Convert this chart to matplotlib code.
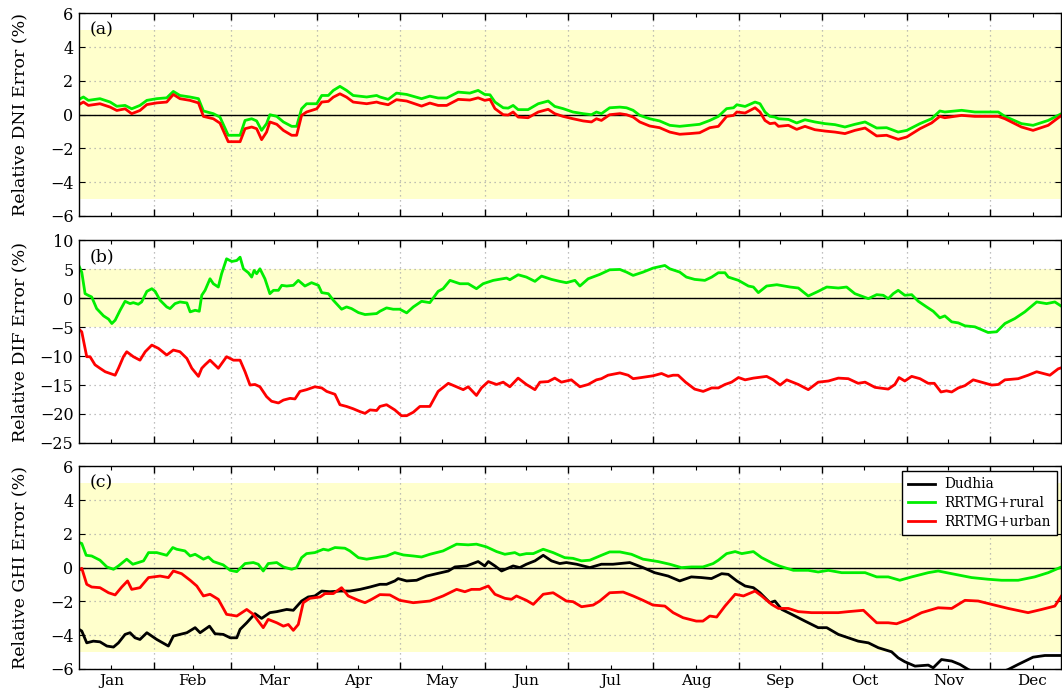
import numpy as np
import matplotlib
matplotlib.use("Agg")
import matplotlib.pyplot as plt
from matplotlib.ticker import FixedLocator, NullFormatter, FixedFormatter

# ---------------- data (day of year, 0 = Jan 1) ----------------
a_days = [3.8, 5.4, 7.2, 11.4, 15.1, 17.5, 20.5, 22.9, 25.9, 28.4, 32, 35.6, 38, 40.4, 44, 47.1,
          48.9, 52.5, 54.9, 57.9, 62.2, 64, 66.4, 68.2, 70, 71.8, 73, 75.5, 77.9, 80.9, 82.7,
          84.5, 86.3, 90, 91.8, 94.2, 96, 98.4, 100.8, 103.2, 108.1, 111.7,
          112.9, 115.9, 118.9, 122.6, 128, 131, 134, 137.1, 141.3, 145.5, 148.5, 150.9, 152.8,
          154.6, 157.6, 159.4, 161.2, 163, 166.6, 170.3, 173.9, 176.3, 179.3, 182.9, 186.6,
          189.6, 191.4, 193.2, 196.2, 199.9, 202.3, 204.7, 207.1, 210.7, 214.3, 218, 221.6,
          225.2, 228.8, 232.5,
          235.6, 238.6, 241.1, 242.3, 245.3, 248.9, 250.7, 252.5, 254.3, 256.1, 257.4, 261,
          264, 267, 270.6, 274.3, 277.9, 281.5, 285.1, 288.8, 293, 296.6, 300.8, 303.9, 308.7,
          312.9, 315.9, 317.7, 323.8, 328.6, 337.1, 339.5, 345.5, 349.7, 355.2, 360]
a_rural = [0.91, 1.05, 0.85, 0.95, 0.75, 0.5, 0.55, 0.35, 0.55, 0.85, 0.95, 1.0, 1.38, 1.14, 1.05, 0.95,
           0.22, 0.06, -0.14, -1.22, -1.22, -0.34, -0.24, -0.37, -0.93, -0.53, 0.0, -0.1, -0.43, -0.69, -0.69,
           0.35, 0.65, 0.65, 1.14, 1.14, 1.44, 1.68, 1.44, 1.14, 1.05, 1.14,
           1.05, 0.91, 1.28, 1.2, 0.95, 1.1, 0.99, 0.99, 1.34, 1.28, 1.44, 1.2, 1.18,
           0.75, 0.41, 0.39, 0.55, 0.3, 0.3, 0.65, 0.81, 0.49, 0.36, 0.16, 0.06,
           0.0, 0.16, 0.06, 0.41, 0.45, 0.41, 0.26, -0.04, -0.24, -0.37, -0.63, -0.69,
           -0.63, -0.57, -0.34,
           -0.1, 0.36, 0.41, 0.59, 0.49, 0.75, 0.65, 0.16, -0.1, -0.14, -0.24, -0.28,
           -0.49, -0.3, -0.43, -0.53, -0.59, -0.73, -0.57, -0.43, -0.79, -0.77, -1.03, -0.93, -0.53,
           -0.24, 0.22, 0.16, 0.26, 0.16, 0.16, -0.1, -0.53, -0.63, -0.34, 0.06]
a_urban = [0.6, 0.75, 0.55, 0.65, 0.45, 0.25, 0.35, 0.06, 0.25, 0.6, 0.7, 0.75, 1.2, 0.95, 0.85, 0.7,
           -0.1, -0.24, -0.5, -1.6, -1.6, -0.83, -0.73, -0.83, -1.48, -1.03, -0.43, -0.57, -0.93, -1.22, -1.22,
           -0.04, 0.16, 0.35, 0.75, 0.79, 1.04, 1.24, 1.04, 0.75, 0.65, 0.75,
           0.69, 0.59, 0.89, 0.81, 0.51, 0.69, 0.55, 0.55, 0.91, 0.87, 1.0, 0.85, 0.91,
           0.36, 0.0, -0.02, 0.16, -0.14, -0.18, 0.16, 0.32, 0.06, -0.1, -0.24, -0.37,
           -0.43, -0.24, -0.34, 0.0, 0.06, 0.0, -0.14, -0.43, -0.67, -0.77, -1.03, -1.16,
           -1.12, -1.07, -0.77,
           -0.69, -0.1, -0.04, 0.16, 0.1, 0.41, 0.16, -0.34, -0.53, -0.49, -0.69, -0.63,
           -0.87, -0.69, -0.89, -0.97, -1.03, -1.12, -0.93, -0.79, -1.26, -1.22, -1.46, -1.32, -0.83,
           -0.49, -0.1, -0.18, -0.04, -0.1, -0.1, -0.24, -0.73, -0.93, -0.63, -0.04]

b_rural_days = [3.8, 4.8, 6.0, 7.2, 8.4, 10.2, 12.7, 14.5, 15.7, 16.9, 18.7, 20.5, 22.3, 23.5, 25.3,
                26.5, 28.4, 30.2, 31.4, 33.2, 35.6, 36.8, 38.6, 40.4, 42.9, 44.1, 45.9, 47.4, 48.3,
                49.5, 51.3, 52.5, 54.3, 55.5, 57.3, 59.2, 61, 62.2, 63.4, 65.2, 66.4, 67.3, 68.2,
                69.4, 71.2, 73, 74.3, 76.1, 77.3, 79.1, 81.5, 83.3, 85.7, 88.1, 90.6, 91.8, 94.2,
                96, 99, 100.8, 102.6, 105.1, 107.5, 111.7,
                112.9, 115.3, 117.7, 120.1, 122.6, 125, 128, 131, 134, 135.8, 138.3, 141.9, 144.9,
                147.9, 150.3, 154, 158.8, 160, 163, 166, 169.1, 171.5, 175.1, 178.1, 180.5, 183.6,
                185.4, 188.4, 192.6, 196.2, 199.9, 202.3, 204.7, 208.3, 211.9, 216.2, 218, 221.6,
                224, 227, 230.7,
                233.2, 235.6, 238, 239.2, 242.9, 246.5, 248.3, 250.1, 253.1, 256.8, 261.6, 264.6,
                268.2, 271.8, 274.9, 279.1, 282.1, 285.1, 290, 293, 295.4, 297.2, 299, 300.8, 303.2,
                305.7, 308.1, 311.1, 313.5, 315.9, 317.7, 320.2, 322.6, 325, 328.6, 333.4, 336.5,
                339.5, 343.1, 346.7, 351, 354.6, 357.6, 360]
b_rural = [5.57, 4.5, 0.8, 0.5, 0.23, -1.78, -3.04, -3.6, -4.36, -3.79, -2.07, -0.52, -0.92, -0.75, -1.03,
           -0.63, 1.2, 1.66, 1.2, -0.34, -1.49, -1.78, -0.92, -0.63, -0.8, -2.35, -2.07, -2.24, 0.52,
           1.38, 3.38, 2.52, 1.95, 4.25, 6.83, 6.37, 6.54, 7.11, 5.1, 4.42, 3.67, 4.82, 4.25,
           5.1, 3.38, 0.8, 1.38, 1.38, 2.24, 2.12, 2.24, 3.1, 2.12, 2.7, 2.24, 0.98, 0.8,
           -0.34, -1.89, -1.49, -1.78, -2.47, -2.81, -2.64,
           -2.24, -1.66, -1.89, -1.89, -2.52, -1.49, -0.52, -0.75, 1.2, 1.66, 3.1, 2.52, 2.52,
           1.66, 2.52, 3.1, 3.5, 3.21, 4.07, 3.67, 2.93, 3.84, 3.27, 2.93, 2.7, 3.1,
           2.12, 3.38, 4.13, 4.93, 4.99, 4.53, 3.96, 4.53, 5.22, 5.68, 5.1, 4.53,
           3.67, 3.27, 3.1,
           3.67, 4.42, 4.42, 3.67, 3.1, 2.12, 1.95, 0.98, 2.12, 2.35, 1.95, 1.78,
           0.4, 1.2, 1.95, 1.78, 1.95, 0.8, -0.06, 0.63, 0.52, -0.06, 0.8, 1.38, 0.52,
           0.63, -0.52, -1.49, -2.24, -3.38, -3.04, -4.07, -4.25, -4.76, -4.93, -5.91, -5.79,
           -4.36, -3.5, -2.35, -0.63, -0.92, -0.63, -1.38]

b_urban_days = [3.8, 4.8, 6.6, 7.8, 9.6, 11.4, 13.3, 15.1, 16.9, 18.1, 19.9, 21.1, 23.5, 25.9, 27.8,
                30.2, 32.6, 35.6, 38, 40.4, 42.9, 44.7, 47.1, 48.3, 49.5, 51.3, 54.3, 57.3, 59.8,
                62.2, 64, 65.8, 67.6, 69.4, 71.8, 73.6, 76.1, 77.9, 80.3, 82.1, 83.9, 86.3, 89.3,
                91.8, 93.6, 96.6, 98.4, 100.8, 103.2, 105.7, 107.5, 109.3, 111.7,
                112.9, 115.3, 118.3, 120.7, 122.6, 125, 127.4, 131, 134, 137.7, 140.7, 143.1, 144.9,
                147.9, 149.7, 152.2, 155.2, 157.6, 160, 163, 166, 169.1, 170.9, 173.9, 176.3, 178.7,
                182.3, 185.4, 188.4, 191.4, 193.2, 195.6, 199.9, 202.9, 204.7, 207.7, 211.9, 215,
                217.4, 219.2, 221, 223.7, 227, 230.1,
                233.2, 235.6, 238, 240.4, 242.9, 245.3, 248.3, 253.1, 255.5, 258, 260.4, 264.6,
                268.2, 271.8, 275.5, 279.1, 282.7, 286.3, 288.8, 292.4, 297.2, 299.6, 301.1, 303.2,
                305.7, 308.7, 311.7, 313.9, 316.3, 318.3, 320.2, 322.6, 325, 328, 331, 334.7, 337.1,
                339.5, 344.3, 347.9, 351, 355.8, 358.8, 360]
b_urban = [-5.34, -5.8, -10.1, -10.1, -11.5, -12.1, -12.7, -13.0, -13.3, -12.1, -10.1, -9.24, -10.1, -10.7, -9.24,
           -8.09, -8.66, -9.81, -8.95, -9.24, -10.4, -12.1, -13.5, -12.1, -11.5, -10.7, -12.1, -10.1, -10.7,
           -10.7, -12.7, -15.0, -14.9, -15.3, -17.0, -17.8, -18.1, -17.6, -17.3, -17.4, -16.1, -15.8, -15.3,
           -15.5, -16.1, -16.6, -18.4, -18.7, -19.1, -19.6, -19.9, -19.3, -19.4,
           -18.7, -18.4, -19.3, -20.3, -20.3, -19.7, -18.7, -18.7, -16.1, -14.7, -15.3, -15.8, -15.3,
           -16.8, -15.5, -14.4, -14.9, -14.5, -15.3, -13.8, -14.9, -15.8, -14.5, -14.4, -13.8, -14.5,
           -14.1, -15.3, -14.9, -14.1, -13.9, -13.3, -12.9, -13.3, -13.9, -13.7, -13.4, -13.0,
           -13.5, -13.3, -13.3, -14.5, -15.7, -16.1,
           -15.5, -15.5, -14.9, -14.5, -13.7, -14.1, -13.8, -13.5, -14.1, -15.0, -14.1, -14.9,
           -15.8, -14.5, -14.3, -13.8, -13.9, -14.7, -14.5, -15.4, -15.7, -14.9, -13.7, -14.3,
           -13.5, -13.9, -14.7, -14.7, -16.2, -16.0, -16.2, -15.5, -15.1, -14.1, -14.5, -15.0, -14.9,
           -14.1, -13.9, -13.3, -12.7, -13.3, -12.2, -12.0]

c_dudhia_days = [3.8, 4.8, 6.6, 9.0, 11.4, 13.9, 16.3, 18.1, 20.5, 22.3, 24.1, 25.9, 28.4, 32, 36.2,
                 38, 40.4, 42.9, 45.9, 47.7, 51.1, 53.1, 56.1, 58.6, 61, 62.2, 64.6, 67.6, 70, 73,
                 75.5, 79.1, 81.5, 84.5, 86.9, 89.3, 91.8, 94.8, 98.4, 102, 105.7, 109.3,
                 112.9, 115.3, 118.3, 119.5, 122.6, 126.2, 129.8, 134, 137.7, 140.1, 144.3, 148.5,
                 150.9, 152.2, 154.6, 157, 161.2, 163.6, 166, 169.1, 172.1, 175.1, 178.1, 180.5,
                 184.2, 189, 193.2, 197.4, 203.5, 208.3, 212.5, 217.4, 221.6, 225.8, 229.4, 233.1,
                 236.8, 239.2, 242.3, 245.3, 248.3, 250.7, 254.3, 256.1, 258.6, 262.2, 267, 271.8,
                 274.9, 279.1, 282.7, 286.3, 290, 293.6, 298.4, 300.8, 303.2, 306.9, 311.7, 313.5,
                 316.5, 320.2, 323.2, 326.2, 330, 335, 340.7, 344.3, 349.7, 354, 360]
c_dudhia = [-3.66, -3.76, -4.46, -4.36, -4.4, -4.65, -4.71, -4.46, -3.96, -3.86, -4.16, -4.26, -3.86, -4.26, -4.65,
            -4.06, -3.96, -3.86, -3.56, -3.86, -3.47, -3.92, -3.96, -4.16, -4.16, -3.66, -3.27, -2.73, -3.01, -2.67,
            -2.61, -2.48, -2.53, -1.98, -1.74, -1.68, -1.39, -1.43, -1.39, -1.39, -1.29, -1.15,
            -0.99, -0.99, -0.79, -0.65, -0.79, -0.75, -0.5, -0.34, -0.2, 0.04, 0.1, 0.36,
            0.1, 0.36, 0.1, -0.2, 0.1, 0.0, 0.2, 0.4, 0.73, 0.4, 0.24, 0.3,
            0.2, 0.0, 0.2, 0.2, 0.3, 0.0, -0.3, -0.5, -0.79, -0.55, -0.59, -0.65,
            -0.36, -0.4, -0.79, -1.09, -1.19, -1.49, -2.08, -1.98, -2.48, -2.77, -3.17, -3.56,
            -3.56, -3.96, -4.16, -4.36, -4.46, -4.75, -4.99, -5.35, -5.58, -5.84, -5.78, -5.94,
            -5.45, -5.54, -5.74, -6.04, -6.3, -6.4, -6.04, -5.74, -5.31, -5.21, -5.21]

c_rural_days = [3.8, 4.8, 6.4, 8.4, 11.4, 13.9, 16.3, 18.1, 21.1, 23.3, 25.3, 27.2, 29, 32, 35.6,
                37.8, 39.2, 42.2, 44.1, 45.9, 48.9, 50.7, 52.5, 56.1, 58.6, 61, 64, 67, 68.8, 70.6,
                72.4, 75.5, 77.9, 80.9, 82.7, 84.5, 86.3, 89.3, 92.4, 94.2, 96.6, 100.2, 102, 105.1,
                108.1,
                112.9, 115.3, 118.3, 121.4, 125, 128, 131, 135.8, 140.7, 144.9, 147.9, 151.5, 155.2,
                158.2, 161.8, 163.6, 166, 168.5, 172.1, 175.7, 179.9, 182.9, 186, 189, 193.2, 196.2,
                199.9, 204.1, 208.3, 213.7, 218, 222.2, 225.8, 230, 233.7,
                235.6, 238.6, 241.7, 244.1, 248.3, 251.3, 255.5, 258, 262.8, 268.2, 271.8, 275.5,
                280.3, 288.8, 293, 297.2, 301.4, 305.7, 311.7, 315.3, 320.2, 327.4, 333.4, 338.3,
                344.3, 350.3, 355.2, 360]
c_rural = [1.49, 1.43, 0.73, 0.69, 0.44, 0.04, -0.1, 0.1, 0.5, 0.2, 0.3, 0.4, 0.89, 0.89, 0.73,
           1.19, 1.09, 0.99, 0.69, 0.79, 0.5, 0.63, 0.36, 0.16, -0.16, -0.24, 0.24, 0.3, 0.2, -0.2,
           0.24, 0.3, 0.04, -0.1, 0.0, 0.59, 0.83, 0.89, 1.09, 1.03, 1.19, 1.15, 0.99, 0.59,
           0.5,
           0.63, 0.69, 0.89, 0.75, 0.69, 0.63, 0.79, 0.99, 1.39, 1.35, 1.39, 1.23, 0.95,
           0.79, 0.89, 0.75, 0.83, 0.83, 1.09, 0.89, 0.59, 0.55, 0.4, 0.44, 0.73, 0.93,
           0.93, 0.79, 0.5, 0.36, 0.2, 0.0, 0.04, 0.04, 0.24,
           0.44, 0.83, 0.95, 0.83, 0.95, 0.59, 0.24, 0.08, -0.16, -0.16, -0.26, -0.16,
           -0.3, -0.3, -0.55, -0.55, -0.75, -0.55, -0.3, -0.2, -0.36, -0.59, -0.69, -0.75,
           -0.75, -0.55, -0.3, 0.04]

c_urban_days = [3.8, 4.8, 6.6, 8.4, 11.4, 14.5, 16.9, 19.3, 21.4, 22.9, 25.9, 29, 33.2, 36.2, 38,
                41, 44.1, 46.5, 48.9, 51.3, 54.3, 57.3, 61, 64.6, 67, 68.8, 70.6, 72.4, 75.5, 77.9,
                79.7, 81.5, 83.3, 85.1, 87.5, 91.2, 93, 96, 99, 101.4, 105.1, 107.5, 109.9,
                112.9, 116.5, 120.1, 125, 131, 135.8, 140.7, 143.7, 146.1, 149.1, 152.2, 154.6,
                158.2, 160.6, 162.4, 166, 168.5, 172.1, 175.7, 180.5, 182.9, 186, 190.2, 192.6,
                196.2, 201.1, 204.7, 208.3, 211.9, 216.2, 219.2, 222.8, 227.6, 230, 232.5,
                235, 238, 241.7, 244.7, 248.9, 251.3, 254.9, 257.4, 261, 264.6, 269.4, 274.3,
                279.1, 282.7, 288.2, 293, 297.2, 300.2, 304.5, 309.3, 315.3, 320.2, 325, 329.8,
                334.7, 340.7, 347.9, 352.8, 357.6, 360]
c_urban = [-0.16, -0.04, -0.99, -1.15, -1.19, -1.49, -1.62, -1.15, -0.79, -1.29, -1.19, -0.59, -0.5, -0.59, -0.2,
           -0.36, -0.75, -1.09, -1.68, -1.58, -1.88, -2.77, -2.87, -2.48, -2.77, -3.17, -3.56, -3.07, -3.27, -3.47,
           -3.37, -3.72, -3.37, -2.08, -1.82, -1.74, -1.54, -1.54, -1.19, -1.68, -1.94, -2.08, -1.88,
           -1.6, -1.62, -1.94, -2.08, -1.98, -1.68, -1.29, -1.43, -1.29, -1.29, -1.09, -1.58,
           -1.82, -1.88, -1.68, -1.94, -2.18, -1.58, -1.49, -1.98, -2.02, -2.32, -2.22, -1.98,
           -1.49, -1.45, -1.68, -1.94, -2.22, -2.28, -2.67, -2.97, -3.17, -3.17, -2.87,
           -2.93, -2.28, -1.58, -1.68, -1.39, -1.68, -2.18, -2.42, -2.42, -2.61, -2.67, -2.67,
           -2.67, -2.61, -2.53, -3.27, -3.27, -3.33, -3.07, -2.67, -2.38, -2.42, -1.94, -1.98,
           -2.18, -2.42, -2.67, -2.48, -2.28, -1.68]

month_names = ["Jan", "Feb", "Mar", "Apr", "May", "Jun", "Jul", "Aug", "Sep", "Oct", "Nov", "Dec"]
month_starts = [0, 31, 59, 90, 120, 151, 181, 212, 243, 273, 304, 334, 365]
panel_labels = ["(a)", "(b)", "(c)"]
ylabels = ["Relative DNI Error (%)", "Relative DIF Error (%)", "Relative GHI Error (%)"]
ylims = [(-6, 6), (-25, 10), (-6, 6)]
ystep = [2, 5, 2]

# ---------------- style ----------------
plt.rcParams['font.family'] = ['DejaVu Serif']
plt.rcParams['mathtext.fontset'] = 'dejavuserif'

GREEN = "#00ee00"
RED = "#ff0000"
BLACK = "#000000"

fig = plt.figure(figsize=(10.62, 6.92), dpi=100)
left, right = 0.0744, 0.9995
bottoms = [0.688, 0.360, 0.0335]
height = 0.2925
axes = [fig.add_axes([left, b, right - left, height]) for b in bottoms]

majors = month_starts[:-1]
mids = [(month_starts[i] + month_starts[i + 1]) / 2 for i in range(12)]

series = [
    [(a_days, a_rural, GREEN, "RRTMG+rural"), (a_days, a_urban, RED, "RRTMG+urban")],
    [(b_rural_days, b_rural, GREEN, "RRTMG+rural"), (b_urban_days, b_urban, RED, "RRTMG+urban")],
    [(c_dudhia_days, c_dudhia, BLACK, "Dudhia"), (c_rural_days, c_rural, GREEN, "RRTMG+rural"),
     (c_urban_days, c_urban, RED, "RRTMG+urban")],
]

for i, ax in enumerate(axes):
    ax.set_axisbelow(True)
    ax.axhspan(-5, 5, color="#ffffcc", zorder=0, lw=0)
    ax.axhline(0, color="black", lw=1.0, zorder=2)
    for d, v, c, lab in series[i]:
        ax.plot(d, v, color=c, lw=2.0, label=lab, zorder=3)
    ax.set_xlim(3.8, 360)
    ax.set_ylim(*ylims[i])
    ax.set_yticks(np.arange(ylims[i][0], ylims[i][1] + 0.1, ystep[i]))
    ax.xaxis.set_major_locator(FixedLocator(majors))
    ax.xaxis.set_minor_locator(FixedLocator(mids))
    ax.xaxis.set_major_formatter(NullFormatter())
    if i == 2:
        ax.xaxis.set_minor_formatter(FixedFormatter(month_names))
    else:
        ax.xaxis.set_minor_formatter(NullFormatter())
    ax.tick_params(axis="x", which="both", direction="in", top=True, bottom=True,
                   labelsize=11, pad=3.5)
    ax.tick_params(axis="x", which="major", length=5, width=1)
    ax.tick_params(axis="x", which="minor", length=3, width=0.8)
    ax.tick_params(axis="y", which="major", direction="in", length=4, labelsize=11.5, pad=4,
                   right=True)
    ax.grid(True, which="major", axis="both", color="#aaaaaa", ls=(0, (1, 3)), lw=0.9)
    for s in ax.spines.values():
        s.set_linewidth(1.0)
        s.set_zorder(5)
    ax.set_ylabel(ylabels[i], fontsize=12.5)
    ax.yaxis.set_label_coords(-0.052, 0.5)
    ax.text(0.011, 0.96, panel_labels[i], transform=ax.transAxes, fontsize=12.5,
            va="top", ha="left", zorder=6)

leg = axes[2].legend(loc="upper right", fontsize=9.8, frameon=True, fancybox=False,
                     edgecolor="black", framealpha=1, handlelength=2.0, borderaxespad=0.35,
                     labelspacing=0.35, handletextpad=0.65, borderpad=0.45)
leg.get_frame().set_linewidth(1.0)
leg.set_zorder(7)

fig.savefig("out.png", dpi=100)
